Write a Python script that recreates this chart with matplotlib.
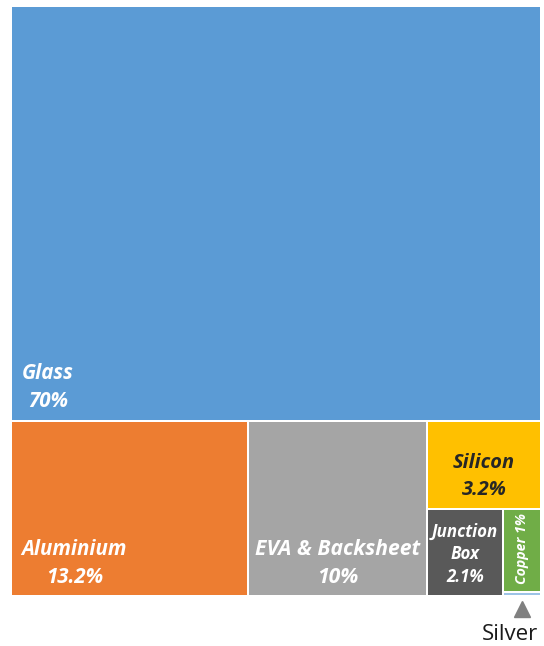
import matplotlib.pyplot as plt
import matplotlib.patches as patches

# material shares of a PV module (%)
materials = ["Glass", "Aluminium", "EVA & Backsheet", "Silicon", "Junction Box", "Copper", "Silver"]
shares = [70, 13.2, 10, 3.2, 2.1, 1, 0.05]
labels = ["Glass\n70%", "Aluminium\n13.2%", "EVA & Backsheet\n10%", "Silicon\n3.2%",
          "Junction\nBox\n2.1%", "Copper 1%", ""]
colors = ["#5B9BD5", "#ED7D31", "#A5A5A5", "#FFC000", "#595959", "#70AD47", "#9DC3E6"]

plt.rcParams['font.family'] = ['Open Sans', 'DejaVu Sans']

W, H = 544, 646
fig = plt.figure(figsize=(W / 100, H / 100), dpi=100)
ax_l, ax_r, ax_t, ax_b = 11, 541, 6, 596
ax = fig.add_axes([ax_l / W, (H - ax_b) / H, (ax_r - ax_l) / W, (ax_b - ax_t) / H])
ax.set_xlim(0, 1)
ax.set_ylim(0, 1)
ax.axis('off')

px_x = 1 / (ax_r - ax_l)
px_y = 1 / (ax_b - ax_t)


def split(vals, x, y, w, h, horizontal):
    tot = sum(vals)
    out = []
    if horizontal:
        cx = x
        for v in vals:
            ww = w * v / tot
            out.append((cx, y, ww, h))
            cx += ww
    else:
        cy = y + h
        for v in vals:
            hh = h * v / tot
            cy -= hh
            out.append((x, cy, w, hh))
    return out


s = dict(zip(materials, shares))
rects = {}
# glass on top, the rest beneath
top, rest = split([s["Glass"], sum(shares[1:])], 0, 0, 1, 1, False)
rects["Glass"] = top
al, eva, col = split([s["Aluminium"], s["EVA & Backsheet"], sum(shares[3:])], *rest, True)
rects["Aluminium"], rects["EVA & Backsheet"] = al, eva
si, low = split([s["Silicon"], sum(shares[4:])], *col, False)
rects["Silicon"] = si
jb, cu_col = split([s["Junction Box"], s["Copper"] + s["Silver"]], *low, True)
rects["Junction Box"] = jb
rects["Copper"], rects["Silver"] = split([s["Copper"], s["Silver"]], *cu_col, False)

for name, c in zip(materials, colors):
    x, y, w, h = rects[name]
    ax.add_patch(patches.Rectangle((x + px_x, y + px_y), w - 2 * px_x, h - 2 * px_y,
                                   facecolor=c, edgecolor='none'))

txt = dict(fontweight='bold', fontstyle='italic', multialignment='center')


def place(name, fx, fy, ha, va, size, color='white', rot=0, ls=1.45):
    x, y, w, h = rects[name]
    lab = labels[materials.index(name)]
    ax.text(x + fx * w, y + fy * h, lab, ha=ha, va=va, fontsize=size, color=color,
            rotation=rot, linespacing=ls, **txt)


place("Glass", 0.021, 0.022, 'left', 'bottom', 14.8)
place("Aluminium", 0.045, 0.045, 'left', 'bottom', 14.8)
place("EVA & Backsheet", 0.5, 0.045, 'center', 'bottom', 15.2)
place("Silicon", 0.5, 0.37, 'center', 'center', 14.4, color='#262626')
place("Junction Box", 0.5, 0.48, 'center', 'center', 12.2, ls=1.35)
place("Copper", 0.5, 0.52, 'center', 'center', 10.2, rot=90)

# silver is too thin to label inside, so point to it from below
sx, sy, sw, sh = rects["Silver"]
ax.plot(sx + sw / 2, -13 * px_y, marker='^', markersize=11, color='#808080',
        clip_on=False, linestyle='none')
ax.text(sx + sw / 2 - 12 * px_x, -38 * px_y, "Silver", ha='center', va='center',
        fontsize=16, color='#1a1a1a', clip_on=False)

fig.savefig("out.png", dpi=100, facecolor='white')
